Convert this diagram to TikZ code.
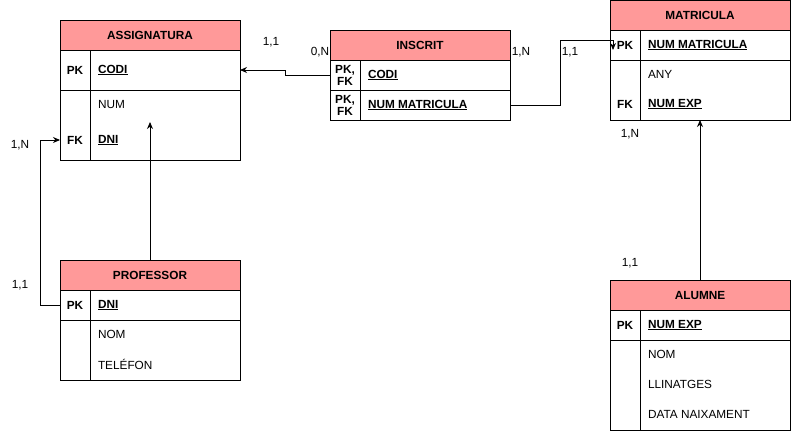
\documentclass[tikz,border=0pt]{standalone}
\usepackage{fontspec}
\setmainfont{Liberation Sans}
\usetikzlibrary{positioning,arrows.meta}
\definecolor{hdrred}{HTML}{FF9999}

\begin{document}
\begin{tikzpicture}[x=1pt,y=-1pt,font=\fontsize{11.8}{13}\selectfont,line width=0.9pt,
  every node/.style={inner sep=0pt,outer sep=0pt},
  hdr/.style={draw, fill=hdrred, minimum width=180pt, minimum height=30pt, font=\fontsize{11.8}{13}\selectfont\bfseries},
  sect/.style={draw, minimum width=180pt, minimum height=#1},
  keyc/.style={font=\fontsize{11.8}{13}\selectfont\bfseries, align=center},
  attr/.style={anchor=west},
  keyattr/.style={anchor=west, font=\fontsize{11.8}{13}\selectfont\bfseries},
  card/.style={font=\fontsize{11.8}{13}\selectfont},
  link/.style={line width=0.9pt},
  fkarrow/.style={link, -{Stealth[length=7pt,width=6pt]}}]
\useasboundingbox (0,0) rectangle (791,431);

% ASSIGNATURA
\node[hdr] (asg) at (150,35) {ASSIGNATURA};
\node[sect=40pt] (asgpk) at (150,70) {};
\node[sect=70pt] (asgatr) at (150,125) {};
\draw (90,50) -- (90,160);
\node[keyc] at (75,70) {PK};
\node[keyattr] at (98,70) {\underline{CODI}};
\node[attr] (asgnum) at (98,104) {NUM};
\node[keyc] at (75,140) {FK};
\node[keyattr] at (98,140) {\underline{DNI}};
\coordinate (asgfk) at (60,140);
\coordinate (asgin) at (150,122);

% PROFESSOR
\node[hdr] (prof) at (150,275) {PROFESSOR};
\node[sect=30pt] (profpk) at (150,305) {};
\node[sect=60pt] (profatr) at (150,350) {};
\draw (90,290) -- (90,380);
\node[keyc] at (75,305) {PK};
\node[keyattr] at (98,305) {\underline{DNI}};
\node[attr] at (98,334) {NOM};
\node[attr] at (98,364) {TEL\'EFON};

% INSCRIT
\node[hdr] (ins) at (420,45) {INSCRIT};
\node[sect=30pt] (inscodi) at (420,75) {};
\node[sect=30pt] (insmat) at (420,105) {};
\draw (360,60) -- (360,120);
\node[keyc, font=\fontsize{11.8}{12}\selectfont\bfseries] at (345,75) {PK,\\FK};
\node[keyattr] at (368,75) {\underline{CODI}};
\node[keyc, font=\fontsize{11.8}{12}\selectfont\bfseries] at (345,105) {PK,\\FK};
\node[keyattr] at (368,105) {\underline{NUM MATRICULA}};

% MATRICULA
\node[hdr] (mat) at (700,15) {MATRICULA};
\node[sect=30pt] (matpk) at (700,45) {};
\node[sect=60pt] (matatr) at (700,90) {};
\draw (640,30) -- (640,120);
\node[keyc] at (625,45) {PK};
\node[keyattr] at (648,45) {\underline{NUM MATRICULA}};
\node[attr] at (648,74) {ANY};
\node[keyc] at (625,104) {FK};
\node[keyattr] at (648,104) {\underline{NUM EXP}};
\coordinate (matin) at (613,50);

% ALUMNE
\node[hdr] (alu) at (700,295) {ALUMNE};
\node[sect=30pt] (alupk) at (700,325) {};
\node[sect=90pt] (aluatr) at (700,385) {};
\draw (640,310) -- (640,430);
\node[keyc] at (625,325) {PK};
\node[keyattr] at (648,325) {\underline{NUM EXP}};
\node[attr] at (648,354) {NOM};
\node[attr] at (648,384) {LLINATGES};
\node[attr] at (648,414) {DATA NAIXAMENT};

% connectors
\draw[fkarrow] (inscodi.west) -- (285,75) |- (asgpk.east);
\draw[fkarrow] (insmat.east) -- (560,105) -- (560,40) -| (matin);
\draw[fkarrow] (profpk.west) -- (40,305) |- (asgfk);
\draw[fkarrow] (prof.north) -- (asgin);
\draw[fkarrow] (alu.north) -- (matatr.south);

% cardinalities
\node[card] at (271,42) {1,1};
\node[card] at (320,52) {0,N};
\node[card] at (521,52) {1,N};
\node[card] at (570,52) {1,1};
\node[card] at (20,145) {1,N};
\node[card] at (20,285) {1,1};
\node[card] at (630,134) {1,N};
\node[card] at (630,263) {1,1};
\end{tikzpicture}
\end{document}
